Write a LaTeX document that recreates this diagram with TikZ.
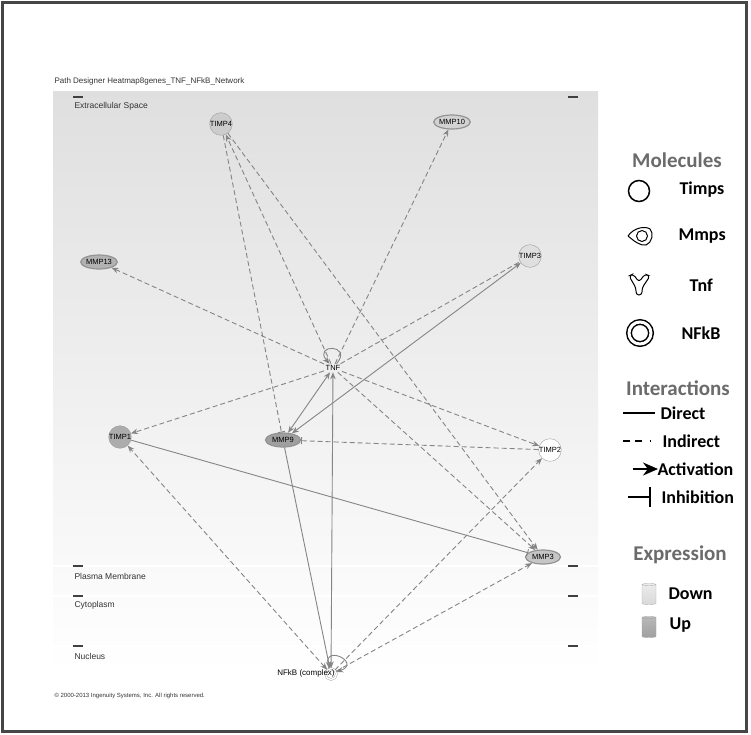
\documentclass[tikz,border=0pt]{standalone}
\usepackage{fontspec}
\setmainfont{Liberation Sans}
\newfontfamily\legendfont{Carlito}
\usetikzlibrary{shapes.geometric,arrows.meta}

\definecolor{edgegray}{gray}{0.52}
\definecolor{headgray}{gray}{0.42}
\tikzstyle{timp} = [circle, minimum size=17pt, inner sep=0pt, draw=gray!75, font=\fontsize{7.5}{8}\selectfont]
\tikzstyle{mmp} = [ellipse, minimum width=35pt, minimum height=14pt, inner sep=0pt, draw=gray!85, line width=1.2pt, font=\fontsize{7.5}{8}\selectfont]
\tikzstyle{direct} = [draw=edgegray, line width=0.9pt]
\tikzstyle{indirect} = [draw=edgegray, line width=0.9pt, dash pattern=on 5pt off 3pt]
\tikzstyle{act} = [-{Stealth[length=7pt,width=5.5pt]}]
\tikzstyle{actboth} = [{Stealth[length=7pt,width=5.5pt]}-{Stealth[length=7pt,width=5.5pt]}]
\tikzstyle{inh} = [-{Bar[width=7pt]}]
\tikzstyle{region} = [anchor=west, font=\fontsize{8.5}{9}\selectfont, text=black!80]
\tikzstyle{heading} = [font=\legendfont\bfseries\fontsize{21}{24}\selectfont, text=headgray]
\tikzstyle{item} = [anchor=west, font=\legendfont\bfseries\fontsize{18}{21}\selectfont]

\begin{document}
\begin{tikzpicture}[x=1pt,y=-1pt]
  \useasboundingbox (0,0) rectangle (751,734);
  % frame and panel
  \draw [line width=3pt, draw=gray!55!black] (2.5,2.5) rectangle (746.5,731.5);
  \shade [top color=gray!25, bottom color=white] (53,91) rectangle (598,672);
  \foreach \y in {566,596,646}
    \draw [white, line width=1.5pt] (53,\y) -- (598,\y);
  \foreach \y in {97,566,596,646} {
    \draw [line width=1.2pt, black!75] (73,\y) -- (83,\y);
    \draw [line width=1.2pt, black!75] (568,\y) -- (578,\y);
  }
  \node [anchor=west, font=\fontsize{8}{9}\selectfont, text=black!80] (title) at (51,81) {Path Designer Heatmap8genes\_TNF\_NFkB\_Network};
  \node [region] (Extracellular) at (71,106) {Extracellular Space};
  \node [region] (Plasma) at (71,576) {Plasma Membrane};
  \node [region] (Cytoplasm) at (71,605) {Cytoplasm};
  \node [region] (Nucleus) at (71,656) {Nucleus};
  \node [anchor=west, font=\fontsize{6}{7}\selectfont, text=black!80] (copyright) at (51,696) {\textcopyright{} 2000-2013 Ingenuity Systems, Inc. All rights reserved.};

  % molecules
  \node (TIMP4) [timp, fill=gray!40] at (221,124) {TIMP4};
  \node (TIMP3) [timp, fill=gray!25] at (530,256) {TIMP3};
  \node (TIMP1) [timp, fill=gray!65] at (120,437) {TIMP1};
  \node (TIMP2) [timp, fill=white] at (550,450) {TIMP2};
  \node (MMP10) [mmp, fill=gray!35] at (452,122) {MMP10};
  \node (MMP13) [mmp, fill=gray!60] at (99,262) {MMP13};
  \node (MMP9) [mmp, fill=gray!75] at (283,440) {MMP9};
  \node (MMP3) [mmp, fill=gray!45] at (543,557) {MMP3};
  \node (TNF) [inner sep=1.5pt, font=\fontsize{7.5}{8}\selectfont] at (333,368) {TNF};
  \node (NFkB) [circle, double=white, draw=gray!75, double distance=1.5pt, minimum size=11pt, inner sep=0pt] at (331,674) {};
  \node (NFkB label) [font=\fontsize{8}{9}\selectfont] at (306,673) {NFkB (complex)};

  % interactions
  \draw [indirect, act] (TNF) -- (TIMP4);
  \draw [indirect, inh] (TIMP4) -- (MMP9);
  \draw [indirect, act] (TIMP4) -- (MMP3);
  \draw [indirect, act] (TNF) -- (MMP10);
  \draw [indirect, act] (TNF) -- (MMP13);
  \draw [indirect] (TNF) -- (TIMP3);
  \draw [indirect, act] (TNF) -- (TIMP1);
  \draw [indirect, act] (TNF) -- (TIMP2);
  \draw [indirect, act] (TNF) -- (MMP3);
  \draw [indirect, inh] (TIMP2) -- (MMP9);
  \draw [direct, actboth] (TNF) -- (MMP9);
  \draw [direct, actboth] (MMP9) -- (TIMP3);
  \draw [direct, inh] (TIMP1) -- (MMP3);
  \draw [direct, actboth] (NFkB) -- (TNF);
  \draw [direct, act] (MMP9) -- (NFkB);
  \draw [indirect, actboth] (NFkB) -- (TIMP1);
  \draw [indirect, act] (NFkB) -- (TIMP2);
  \draw [indirect, act] (NFkB) -- (MMP3);
  \path [direct, act] (TNF) edge [loop, out=50, in=130, min distance=26pt] (TNF);
  \path [direct, act] (NFkB) edge [out=110, in=20, looseness=9] (NFkB);

  % legend
  \node (Molecules) [heading] at (677,160) {Molecules};
  \node (Timps icon) [circle, draw, line width=1.5pt, minimum size=21pt] at (639,191) {};
  \node (Timps) [item] at (676,190) {Timps};
  \draw [line width=1pt] (628,236) .. controls (634,227) and (646,226) .. (650,229)
    .. controls (654,233) and (652,243) .. (646,245) .. controls (640,246) and (634,241) .. (628,236);
  \node (Mmps icon) [circle, draw, line width=1pt, minimum size=11pt] at (642,236) {};
  \node (Mmps) [item] at (675,236) {Mmps};
  \draw [line width=1pt, rounded corners=3pt] (629,276) -- (633,274) -- (639,282) -- (645,274) -- (650,276)
    -- (642,288) -- (642,295) -- (636,295) -- (636,288) -- cycle;
  \node (Tnf icon) [coordinate] at (639,284) {};
  \node (Tnf) [item] at (686,285) {Tnf};
  \node (NFkB icon) [circle, draw, line width=1.5pt, double distance=3pt, double=white, minimum size=22pt] at (640,333) {};
  \node (NFkB legend) [item] at (678,333) {NFkB};

  \node (Interactions) [heading] at (678,388) {Interactions};
  \coordinate (direct a) at (623,413);
  \coordinate (direct b) at (655,413);
  \draw [line width=1.5pt] (direct a) -- (direct b);
  \node (Direct) [item] at (657,413) {Direct};
  \coordinate (indirect a) at (623,441);
  \coordinate (indirect b) at (656,441);
  \draw [line width=1.5pt, dash pattern=on 7pt off 5pt on 7pt off 8pt on 1pt off 9pt] (indirect a) -- (indirect b);
  \node (Indirect) [item] at (659,441) {Indirect};
  \coordinate (act a) at (633,469);
  \coordinate (act b) at (658,469);
  \draw [line width=2pt, -{Stealth[length=15pt,width=13pt]}] (act a) -- (act b);
  \node (Activation) [item] at (654,469) {Activation};
  \coordinate (inh a) at (628,497);
  \coordinate (inh b) at (651,497);
  \draw [line width=1.5pt, -{Bar[width=20pt,line width=1.8pt]}] (inh a) -- (inh b);
  \node (Inhibition) [item] at (658,497) {Inhibition};

  \node (Expression) [heading] at (680,555) {Expression};
  \node (Down icon) [cylinder, shape border rotate=90, aspect=0.3, minimum width=14pt, minimum height=21pt,
    draw=gray!60, top color=gray!15, bottom color=gray!30] at (649,595) {};
  \node (Down) [item] at (665,594) {Down};
  \node (Up icon) [cylinder, shape border rotate=90, aspect=0.3, minimum width=14pt, minimum height=21pt,
    draw=gray!70, top color=gray!55, bottom color=gray!75] at (649,628) {};
  \node (Up) [item] at (666,625) {Up};
\end{tikzpicture}
\end{document}
